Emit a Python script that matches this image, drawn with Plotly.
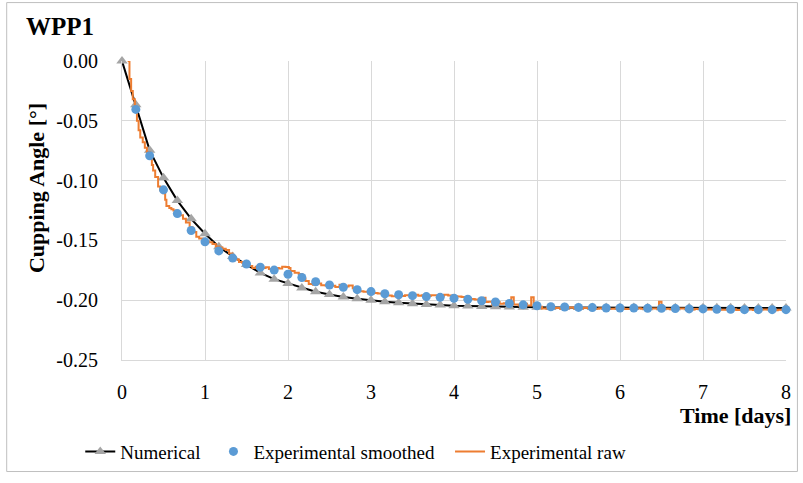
import plotly.graph_objects as go

# ---- data ----
steps_per_day = 6
num_k = list(range(0, 49))
num_v = [0.0, -0.0365, -0.0747, -0.0977, -0.1167, -0.1320, -0.1444, -0.1553, -0.1634, -0.1702,
         -0.1772, -0.1824, -0.1860, -0.1897, -0.1930, -0.1952, -0.1973, -0.1987, -0.2001, -0.2013,
         -0.2022, -0.2030, -0.2036, -0.2041, -0.2046, -0.2049, -0.2052, -0.2055, -0.2057, -0.2058,
         -0.2059, -0.2060, -0.2060, -0.2061, -0.2061, -0.2062, -0.2062, -0.2062, -0.2063, -0.2063,
         -0.2063, -0.2064, -0.2064, -0.2064, -0.2064, -0.2065, -0.2065, -0.2065, -0.2065]
num_t = [k / steps_per_day for k in num_k]

sm_k = list(range(1, 49))
sm_v = [-0.0405, -0.0792, -0.1077, -0.1276, -0.1417, -0.1512, -0.1588, -0.1648, -0.1697,
        -0.1724, -0.1748, -0.1783, -0.1810, -0.1846, -0.1873, -0.1892, -0.1912, -0.1928, -0.1946,
        -0.1954, -0.1962, -0.1970, -0.1976, -0.1984, -0.1992, -0.2005, -0.2015, -0.2028, -0.2039,
        -0.2046, -0.2055, -0.2057, -0.2060, -0.2062, -0.2065, -0.2065, -0.2065, -0.2068, -0.2068,
        -0.2070, -0.2073, -0.2073, -0.2076, -0.2076, -0.2079, -0.2079, -0.2079, -0.2079]
sm_t = [k / steps_per_day for k in sm_k]

raw_t = [0.068, 0.09, 0.11, 0.13, 0.155, 0.18, 0.20, 0.22, 0.25, 0.275, 0.30, 0.335, 0.36, 0.375,
         0.40, 0.435, 0.46, 0.495, 0.52, 0.535, 0.57, 0.595, 0.62, 0.655, 0.69, 0.735, 0.77, 0.815,
         0.85, 0.895, 0.93, 0.97, 1.01, 1.05, 1.09, 1.13, 1.17, 1.21, 1.25, 1.29, 1.33, 1.37, 1.41,
         1.45, 1.49, 1.53, 1.57, 1.61, 1.65, 1.69, 1.73, 1.77, 1.81, 1.85, 1.89, 1.93, 1.97, 2.01,
         2.03, 2.08, 2.13, 2.17, 2.21, 2.25, 2.30, 2.35, 2.40, 2.45, 2.50, 2.57, 2.62, 2.67, 2.73,
         2.78, 2.85, 2.91, 2.97, 3.03, 3.08, 3.13, 3.19, 3.25, 3.30, 3.36, 3.41, 3.47, 3.53, 3.57,
         3.61, 3.67, 3.72, 3.77, 3.83, 3.88, 3.93, 3.99, 4.04, 4.09, 4.15, 4.20, 4.25, 4.30, 4.36,
         4.38, 4.41, 4.46, 4.50, 4.55, 4.60, 4.65, 4.69, 4.72, 4.78, 4.83, 4.88, 4.93, 4.96, 5.01,
         5.06, 5.12, 5.20, 5.28, 5.36, 5.45, 5.55, 5.65, 5.75, 5.85, 5.95, 6.05, 6.15, 6.25, 6.35,
         6.45, 6.47, 6.50, 6.60, 6.70, 6.80, 6.90, 7.00, 7.10, 7.20, 7.30, 7.40, 7.50, 7.60, 7.70,
         7.80, 7.90, 8.00]
raw_v = [0.000, -0.015, -0.025, -0.032, -0.041, -0.050, -0.058, -0.064, -0.068, -0.0725, -0.076,
         -0.0806, -0.087, -0.0915, -0.097, -0.105, -0.108, -0.1105, -0.116, -0.1213, -0.123, -0.124,
         -0.125, -0.1268, -0.129, -0.132, -0.135, -0.139, -0.143, -0.147, -0.1485, -0.150, -0.151,
         -0.1515, -0.153, -0.155, -0.156, -0.157, -0.158, -0.161, -0.1648, -0.166, -0.168, -0.169,
         -0.170, -0.1715, -0.173, -0.172, -0.1735, -0.173, -0.1725, -0.174, -0.1728, -0.173, -0.1735,
         -0.172, -0.1723, -0.173, -0.1755, -0.177, -0.178, -0.182, -0.184, -0.1865, -0.187, -0.186,
         -0.1875, -0.1878, -0.188, -0.189, -0.187, -0.1885, -0.1878, -0.190, -0.1925, -0.193, -0.1946,
         -0.194, -0.1945, -0.1946, -0.196, -0.1967, -0.196, -0.1965, -0.1959, -0.196, -0.1955,
         -0.1962, -0.1959, -0.1965, -0.1958, -0.1959, -0.1963, -0.1955, -0.196, -0.1968, -0.197,
         -0.1973, -0.1985, -0.199, -0.1995, -0.2005, -0.198, -0.2015, -0.2013, -0.2035, -0.2015,
         -0.203, -0.2025, -0.204, -0.1976, -0.2035, -0.2045, -0.203, -0.2045, -0.1976, -0.2045,
         -0.2055, -0.207, -0.2058, -0.2065, -0.2072, -0.2062, -0.207, -0.2065, -0.2072, -0.2068,
         -0.2072, -0.2068, -0.2074, -0.2068, -0.2072, -0.207, -0.2072, -0.2013, -0.2072, -0.2075,
         -0.207, -0.2078, -0.2073, -0.2078, -0.2075, -0.208, -0.2076, -0.2082, -0.2078, -0.2082,
         -0.2078, -0.2083, -0.208, -0.2082]

x_ticks = [0, 1, 2, 3, 4, 5, 6, 7, 8]
y_ticks = [0.0, -0.05, -0.10, -0.15, -0.20, -0.25]
y_tick_text = ["0.00", "-0.05", "-0.10", "-0.15", "-0.20", "-0.25"]

FONT = "Times New Roman, Liberation Serif, Tinos, DejaVu Serif, serif"

# plot area in pixels
W, H = 803, 483
L, R, T, B = 122, 790, 61, 368


def px_x(p):
    return (p - L) / (R - L)


def px_y(p):
    return (B - p) / (B - T)


fig = go.Figure()

fig.add_trace(go.Scatter(
    x=num_t, y=num_v, mode="lines+markers", name="Numerical",
    line=dict(color="#000000", width=2),
    marker=dict(symbol="triangle-up", size=10, color="#A5A5A5"),
    cliponaxis=False, legend="legend"))

fig.add_trace(go.Scatter(
    x=raw_t, y=raw_v, mode="lines", name="Experimental raw",
    line=dict(color="#ED7D31", width=2, shape="hv"),
    cliponaxis=False, legend="legend3"))

fig.add_trace(go.Scatter(
    x=sm_t, y=sm_v, mode="markers", name="Experimental smoothed",
    marker=dict(symbol="circle", size=9, color="#5B9BD5"),
    cliponaxis=False, legend="legend2"))

leg_y = px_y(462)
leg_common = dict(orientation="h", yanchor="middle", xanchor="left", y=leg_y,
                  bgcolor="rgba(0,0,0,0)", font=dict(family=FONT, size=19, color="#000000"))

fig.update_layout(
    width=W, height=H,
    margin=dict(l=L, r=W - R, t=T, b=H - B, pad=0),
    paper_bgcolor="white", plot_bgcolor="white",
    font=dict(family=FONT, size=19, color="#000000"),
    showlegend=True,
    legend=dict(x=px_x(80), **leg_common),
    legend2=dict(x=px_x(214), **leg_common),
    legend3=dict(x=px_x(452), **leg_common),
    xaxis=dict(range=[0, 8], tickvals=x_ticks, ticktext=[str(v) for v in x_ticks],
               showgrid=True, gridcolor="#D9D9D9", gridwidth=1,
               showline=True, linecolor="#D9D9D9", linewidth=1, zeroline=False,
               ticks="", ticklabelstandoff=14,
               tickfont=dict(family=FONT, size=20, color="#000000")),
    yaxis=dict(range=[-0.25, 0], tickvals=y_ticks, ticktext=y_tick_text,
               showgrid=True, gridcolor="#D9D9D9", gridwidth=1,
               showline=True, linecolor="#D9D9D9", linewidth=1, zeroline=False,
               ticks="", ticklabelstandoff=19,
               tickfont=dict(family=FONT, size=20, color="#000000")),
    annotations=[
        dict(text="<b>WPP1</b>", xref="paper", yref="paper", x=px_x(23), y=px_y(26),
             xanchor="left", yanchor="middle", showarrow=False,
             font=dict(family=FONT, size=25, color="#000000")),
        dict(text="<b>Cupping Angle [°]</b>", xref="paper", yref="paper", x=px_x(36), y=px_y(192),
             xanchor="center", yanchor="middle", textangle=-90, showarrow=False,
             font=dict(family=FONT, size=22, color="#000000")),
        dict(text="<b>Time [days]</b>", xref="paper", yref="paper", x=px_x(797), y=px_y(425),
             xanchor="right", yanchor="middle", showarrow=False,
             font=dict(family=FONT, size=22, color="#000000")),
    ],
    shapes=[
        dict(type="rect", xref="paper", yref="paper",
             x0=px_x(6), x1=px_x(801.5), y0=px_y(482.5), y1=px_y(1),
             line=dict(color="#BFBFBF", width=1), fillcolor="rgba(0,0,0,0)", layer="below"),
    ],
)

fig.write_html("out.html")
